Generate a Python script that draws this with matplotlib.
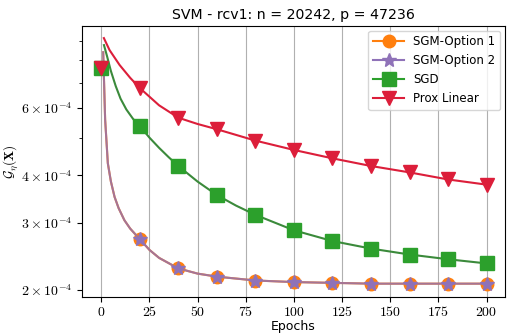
import matplotlib
matplotlib.use("Agg")
import matplotlib.pyplot as plt

plt.rcParams['font.family'] = 'DejaVu Sans'
plt.rcParams['mathtext.fontset'] = 'cm'

# marker values, every 20 epochs
marker_epochs = [0, 20, 40, 60, 80, 100, 120, 140, 160, 180, 200]
sgm1_marks = [7.64e-4, 2.72e-4, 2.28e-4, 2.17e-4, 2.12e-4, 2.10e-4, 2.09e-4, 2.08e-4, 2.08e-4, 2.08e-4, 2.08e-4]
sgm2_marks = [7.64e-4, 2.72e-4, 2.28e-4, 2.17e-4, 2.12e-4, 2.10e-4, 2.09e-4, 2.08e-4, 2.08e-4, 2.08e-4, 2.08e-4]
sgd_marks = [7.64e-4, 5.38e-4, 4.23e-4, 3.55e-4, 3.15e-4, 2.87e-4, 2.69e-4, 2.57e-4, 2.48e-4, 2.41e-4, 2.35e-4]
prox_marks = [7.64e-4, 6.77e-4, 5.66e-4, 5.28e-4, 4.93e-4, 4.66e-4, 4.43e-4, 4.23e-4, 4.07e-4, 3.90e-4, 3.78e-4]

# curve values
sgm_epochs = [1, 2, 3.4, 5, 6.9, 9, 12, 15, 18, 20, 25, 30, 40, 50, 60, 80, 100, 120, 140, 160, 180, 200]
sgm_line = [8.4e-4, 5.6e-4, 4.3e-4, 3.85e-4, 3.51e-4, 3.28e-4, 3.05e-4, 2.90e-4, 2.79e-4, 2.72e-4,
            2.55e-4, 2.43e-4, 2.28e-4, 2.21e-4, 2.17e-4, 2.12e-4, 2.10e-4, 2.09e-4, 2.08e-4, 2.08e-4, 2.08e-4, 2.08e-4]
sgd_epochs = [1.4, 3, 5, 7.5, 10, 13, 16.5, 20, 25, 30, 35, 40, 50, 60, 70, 80, 100, 120, 140, 160, 180, 200]
sgd_line = [8.77e-4, 8.2e-4, 7.5e-4, 6.85e-4, 6.35e-4, 5.95e-4, 5.62e-4, 5.38e-4, 5.02e-4, 4.72e-4, 4.46e-4,
            4.23e-4, 3.85e-4, 3.55e-4, 3.33e-4, 3.15e-4, 2.87e-4, 2.69e-4, 2.57e-4, 2.48e-4, 2.41e-4, 2.35e-4]
prox_epochs = [1.35, 4.3, 9.5, 15, 20, 30, 40, 50, 60, 80, 100, 120, 140, 160, 180, 200]
prox_line = [9.15e-4, 8.51e-4, 7.78e-4, 7.2e-4, 6.77e-4, 6.1e-4, 5.66e-4, 5.45e-4, 5.28e-4, 4.93e-4,
             4.66e-4, 4.43e-4, 4.23e-4, 4.07e-4, 3.90e-4, 3.78e-4]

c_orange = '#ff7f0e'
c_purple = '#8f72b8'
c_green = '#2ca02c'
c_red = '#dc1e3a'

fig = plt.figure(figsize=(5.11, 3.34), dpi=100)
ax = fig.add_axes([0.1605, 0.111, 0.8275, 0.811])

ax.plot(sgm_epochs, sgm_line, color=c_orange, lw=1.5)
ax.plot(marker_epochs, sgm1_marks, ls='none', marker='o', ms=9, color=c_orange)
ax.plot([], [], color=c_orange, marker='o', ms=9, lw=1.5, label='SGM-Option 1')

ax.plot(sgm_epochs, sgm_line, color=c_purple, lw=1.5, alpha=0.8)
ax.plot(marker_epochs, sgm2_marks, ls='none', marker='*', ms=10, color=c_purple)
ax.plot([], [], color=c_purple, marker='*', ms=10, lw=1.5, label='SGM-Option 2')

ax.plot(sgd_epochs, sgd_line, color='#3b8a3b', lw=1.5)
ax.plot(marker_epochs, sgd_marks, ls='none', marker='s', ms=10, color=c_green)
ax.plot([], [], color=c_green, marker='s', ms=10, lw=1.5, label='SGD')

ax.plot(prox_epochs, prox_line, color=c_red, lw=1.5)
ax.plot(marker_epochs, prox_marks, ls='none', marker='v', ms=10, color=c_red)
ax.plot([], [], color=c_red, marker='v', ms=10, lw=1.5, label='Prox Linear')

ax.set_yscale('log')
ax.set_xlim(-10, 209.5)
ax.set_ylim(1.92e-4, 9.84e-4)
ax.set_xticks([0, 25, 50, 75, 100, 125, 150, 175, 200])
ax.set_xticklabels(['$%d$' % t for t in [0, 25, 50, 75, 100, 125, 150, 175, 200]])
ax.set_yticks([2e-4, 3e-4, 4e-4, 6e-4])
ax.set_yticklabels([r'$2\times10^{-4}$', r'$3\times10^{-4}$', r'$4\times10^{-4}$', r'$6\times10^{-4}$'])
ax.set_yticks([5e-4, 7e-4, 8e-4, 9e-4], minor=True)
ax.set_yticklabels([], minor=True)
ax.tick_params(labelsize=10)
ax.tick_params(axis='x', pad=2)
ax.xaxis.grid(True, color='#b0b0b0', lw=0.8)
ax.set_axisbelow(True)

ax.set_title('SVM - rcv1: n = 20242, p = 47236', fontsize=10.2, pad=5)
ax.set_xlabel('Epochs', fontsize=9, labelpad=1)
ax.set_ylabel(r'$\mathcal{G}_\eta(\mathbf{X})$', fontsize=9.5, labelpad=1)

ax.legend(loc='upper right', fontsize=8.5, handlelength=2.6, borderaxespad=0.4)

fig.savefig('out.png', dpi=100)
